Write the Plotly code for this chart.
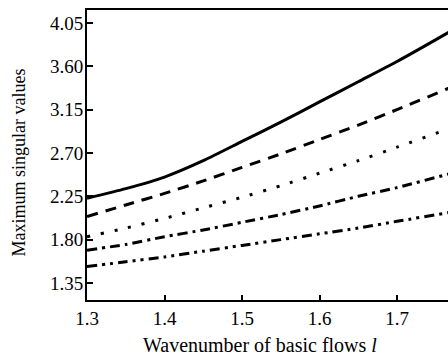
import plotly.graph_objects as go

l_vals = [1.30, 1.35, 1.40, 1.45, 1.50, 1.55, 1.60, 1.65, 1.70, 1.766, 1.80]
solid = [2.23, 2.33, 2.45, 2.62, 2.82, 3.02, 3.23, 3.44, 3.65, 3.95, 4.11]
dashed = [2.04, 2.16, 2.28, 2.41, 2.55, 2.69, 2.84, 2.99, 3.15, 3.37, 3.49]
dotted = [1.83, 1.92, 2.02, 2.13, 2.24, 2.36, 2.49, 2.62, 2.76, 2.95, 3.05]
dashdot = [1.69, 1.75, 1.83, 1.90, 1.98, 2.06, 2.15, 2.25, 2.34, 2.48, 2.55]
dashdotdot = [1.52, 1.57, 1.62, 1.68, 1.74, 1.80, 1.86, 1.92, 1.99, 2.08, 2.13]

y_ticks = [1.35, 1.80, 2.25, 2.70, 3.15, 3.60, 4.05]
y_tick_text = ["1.35", "1.80", "2.25", "2.70", "3.15", "3.60", "4.05"]
x_ticks = [1.3, 1.4, 1.5, 1.6, 1.7]
x_tick_text = ["1.3", "1.4", "1.5", "1.6", "1.7"]

series = [
    (solid, "solid", 3),
    (dashed, "11px,8px", 3),
    (dotted, "3px,11px", 3),
    (dashdot, "10px,5px,3px,5px", 3),
    (dashdotdot, "10px,5px,3px,5px,3px,5px", 3),
]

fig = go.Figure()
for ys, dash, w in series:
    fig.add_trace(go.Scatter(
        x=l_vals, y=ys, mode="lines",
        line=dict(color="black", width=w, dash=dash, shape="spline", smoothing=0.6),
        showlegend=False, hoverinfo="skip",
    ))

tick_font = dict(family="Liberation Serif", size=19, color="black")
xtitle_font = dict(family="Liberation Serif", size=20, color="black")
ytitle_font = dict(family="Liberation Serif", size=18, color="black")

fig.update_layout(
    width=448, height=357,
    margin=dict(l=87, r=0, t=10, b=57),
    paper_bgcolor="white", plot_bgcolor="white",
    font=tick_font,
    xaxis=dict(
        range=[1.3, 1.7658], tickvals=x_ticks, ticktext=x_tick_text,
        ticks="inside", ticklen=5, tickwidth=1.5, tickcolor="black",
        showline=True, linecolor="black", linewidth=2, mirror=True,
        showgrid=False, zeroline=False,
        tickfont=tick_font,
    ),
    yaxis=dict(
        range=[1.173, 4.185], tickvals=y_ticks, ticktext=y_tick_text,
        ticks="inside", ticklen=6, tickwidth=1.5, tickcolor="black",
        showline=True, linecolor="black", linewidth=2, mirror=False,
        showgrid=False, zeroline=False, ticklabelstandoff=-2,
        tickfont=tick_font,
    ),
    annotations=[
        dict(text="Wavenumber of basic flows <i>l</i>", xref="paper", yref="paper",
             x=0.478, y=-0.155, xanchor="center", yanchor="middle",
             showarrow=False, font=xtitle_font),
        dict(text="Maximum singular values", xref="paper", yref="paper",
             x=-0.191, y=0.474, xanchor="center", yanchor="middle", textangle=-90,
             showarrow=False, font=ytitle_font),
    ],
)

fig.write_html(
    "out.html",
    config={"displayModeBar": False},
    post_script="document.body.style.margin='0';document.body.style.overflow='hidden';",
)
